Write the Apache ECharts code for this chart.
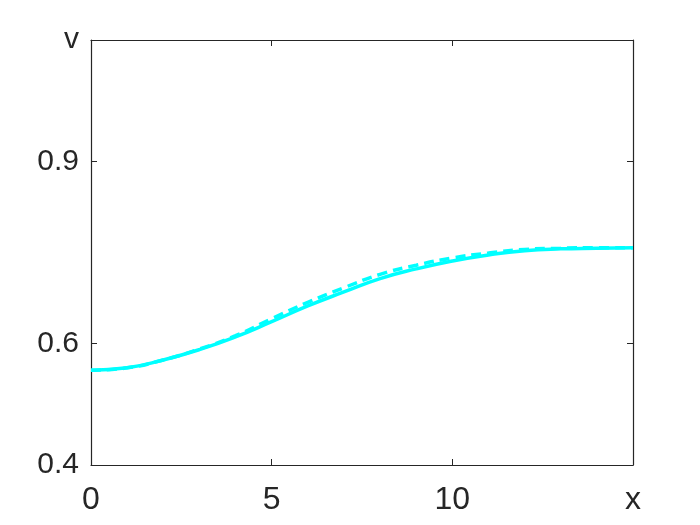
<!DOCTYPE html>
<html>
<head>
<meta charset="utf-8">
<script src="https://cdn.jsdelivr.net/npm/echarts@6/dist/echarts.min.js"></script>
<style>
  html, body { margin: 0; padding: 0; background: #fff; }
  #chart { width: 700px; height: 525px; }
</style>
</head>
<body>
<div id="chart"></div>
<script>
// data
const xs = [0, 1, 2, 3, 4, 5, 6, 7, 8, 9, 10, 11, 12, 13, 14, 15]
const solidV = [0.556, 0.560, 0.573, 0.590, 0.611, 0.636, 0.662, 0.685, 0.707, 0.723, 0.736, 0.746, 0.753, 0.756, 0.757, 0.758]
const dashedV = [0.556, 0.560, 0.573, 0.591, 0.613, 0.641, 0.668, 0.692, 0.714, 0.729, 0.741, 0.749, 0.755, 0.757, 0.758, 0.758]

const xTickValues = [0, 5, 10, 15]
const xTickLabels = ['0', '5', '10', 'x']
const yTickValues = [0.4, 0.6, 0.9, 1.1]
const yTickLabels = ['0.4', '0.6', '0.9', 'v']

const axisColor = '#262626'
const lineColor = '#00ffff'

const toPairs = (vals) => xs.map((x, i) => [x, vals[i]])

const labelFor = (values, labels) => (v) => {
  const i = values.findIndex(t => Math.abs(t - v) < 1e-9)
  return i >= 0 ? labels[i] : ''
}

const chart = echarts.init(document.getElementById('chart'))

const boxAxis = (extra) => Object.assign({
  type: 'value',
  axisLine: { show: true, onZero: false, lineStyle: { color: axisColor, width: 1.2 } },
  splitLine: { show: false }
}, extra)

chart.setOption({
  animation: false,
  grid: { left: 91, right: 67, top: 40, bottom: 60, containLabel: false },
  xAxis: [
    boxAxis({
      position: 'bottom',
      min: 0, max: 15,
      axisTick: { show: true, inside: true, length: 6, customValues: xTickValues, lineStyle: { color: axisColor } },
      axisLabel: {
        customValues: xTickValues,
        formatter: labelFor(xTickValues, xTickLabels),
        margin: 19,
        color: axisColor,
        fontSize: 32,
        fontFamily: 'Liberation Sans, Arial, sans-serif'
      }
    }),
    boxAxis({
      position: 'top',
      min: 0, max: 15,
      axisTick: { show: true, inside: true, length: 6, customValues: xTickValues, lineStyle: { color: axisColor } },
      axisLabel: { show: false }
    })
  ],
  yAxis: [
    boxAxis({
      position: 'left',
      min: 0.4, max: 1.1,
      axisTick: { show: true, inside: true, length: 6, customValues: yTickValues, lineStyle: { color: axisColor } },
      axisLabel: {
        customValues: yTickValues,
        formatter: labelFor(yTickValues, yTickLabels),
        margin: 12,
        color: axisColor,
        fontSize: 30,
        fontFamily: 'Liberation Sans, Arial, sans-serif'
      }
    }),
    boxAxis({
      position: 'right',
      min: 0.4, max: 1.1,
      axisTick: { show: true, inside: true, length: 6, customValues: yTickValues, lineStyle: { color: axisColor } },
      axisLabel: { show: false }
    })
  ],
  series: [
    {
      type: 'line',
      data: toPairs(solidV),
      smooth: true,
      showSymbol: false,
      lineStyle: { color: lineColor, width: 3.5 }
    },
    {
      type: 'line',
      data: toPairs(dashedV),
      smooth: true,
      showSymbol: false,
      lineStyle: { color: lineColor, width: 3.5, type: [10, 6] }
    }
  ]
})
</script>
</body>
</html>
